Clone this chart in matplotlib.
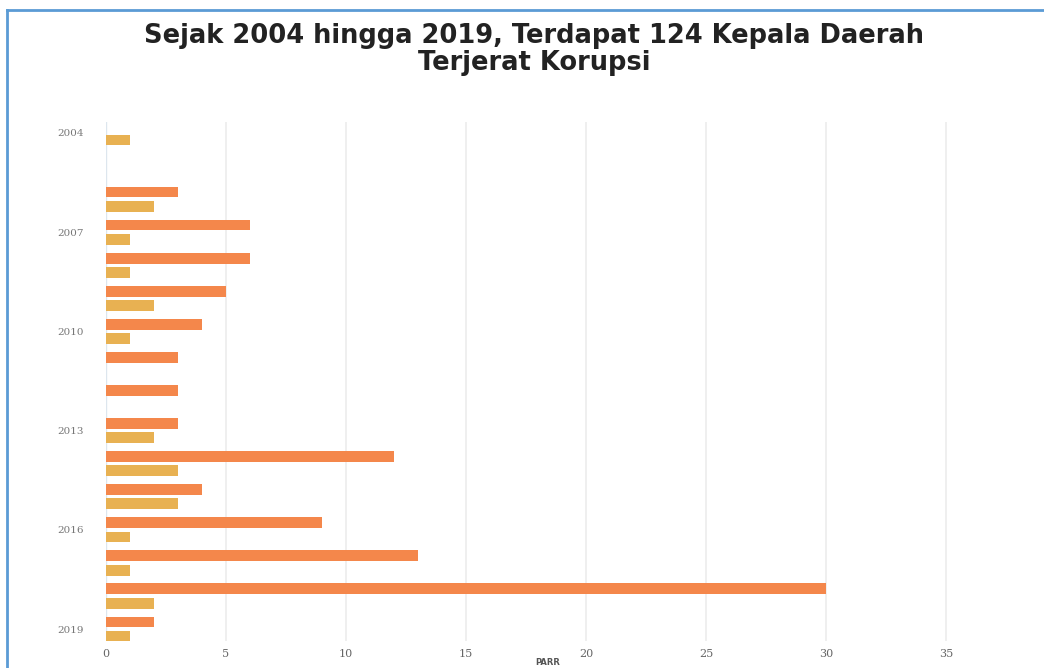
import matplotlib
matplotlib.use("Agg")
import matplotlib.pyplot as plt
from matplotlib.lines import Line2D
import numpy as np

years = [2004, 2005, 2006, 2007, 2008, 2009, 2010, 2011, 2012,
         2013, 2014, 2015, 2016, 2017, 2018, 2019]
series_orange = [0, 0, 3, 6, 6, 5, 4, 3, 3, 3, 12, 4, 9, 13, 30, 2]
series_yellow = [1, 0, 2, 1, 1, 2, 1, 0, 0, 2, 3, 3, 1, 1, 2, 1]
ytick_years = [2004, 2007, 2010, 2013, 2016, 2019]
xticks = [0, 5, 10, 15, 20, 25, 30, 35]
title_line1 = "Sejak 2004 hingga 2019, Terdapat 124 Kepala Daerah"
title_line2 = "Terjerat Korupsi"
xlabel = "PARR"

W, H = 1044, 668
fig = plt.figure(figsize=(W / 100, H / 100), dpi=100)
fig.patch.set_facecolor("white")

left, right, top, bottom = 106, 1044, 122, 641
ax = fig.add_axes([left / W, 1 - bottom / H, (right - left) / W, (bottom - top) / H])

y = np.array(years, dtype=float)
bh = 0.33
off = 0.215
ax.barh(y - off, series_orange, height=bh, color="#F4874B", zorder=3)
ax.barh(y + off, series_yellow, height=bh, color="#E8B152", zorder=3)

ax.set_xlim(0, (right - left) / 24.0)
ax.set_ylim(2019.36, 2003.67)
ax.set_xticks(xticks)
ax.set_xticklabels([str(v) for v in xticks], fontsize=8, color="#666666",
                   family="DejaVu Serif")
ax.set_yticks(ytick_years)
ax.set_yticklabels([str(v) for v in ytick_years], fontsize=7.5, color="#777777",
                   family="DejaVu Serif")
ax.tick_params(axis="both", length=0)
ax.tick_params(axis="y", pad=16)
ax.tick_params(axis="x", pad=6)
for s in ax.spines.values():
    s.set_visible(False)
ax.grid(axis="x", color="#ececec", linewidth=1.2, zorder=0)
ax.axvline(0, color="#dde6ee", linewidth=1.0, zorder=1)
ax.set_axisbelow(True)

fig.text(534 / W, 1 - 43 / H, title_line1, ha="center", va="baseline",
         fontsize=18.5, fontweight="bold", color="#222222", family="DejaVu Sans")
fig.text(534 / W, 1 - 70 / H, title_line2, ha="center", va="baseline",
         fontsize=18.5, fontweight="bold", color="#222222", family="DejaVu Sans")

fig.text(548 / W, 1 - 667 / H, xlabel, ha="center", va="bottom",
         fontsize=6, fontweight="bold", color="#555555")

# blue frame (left and top)
fig.add_artist(Line2D([7 / W, 7 / W], [0, 1 - 10 / H], transform=fig.transFigure,
                      color="#5B9BD5", linewidth=2))
fig.add_artist(Line2D([7 / W, 1], [1 - 10 / H, 1 - 10 / H], transform=fig.transFigure,
                      color="#5B9BD5", linewidth=2))

fig.savefig("out.png", dpi=100, facecolor="white")
